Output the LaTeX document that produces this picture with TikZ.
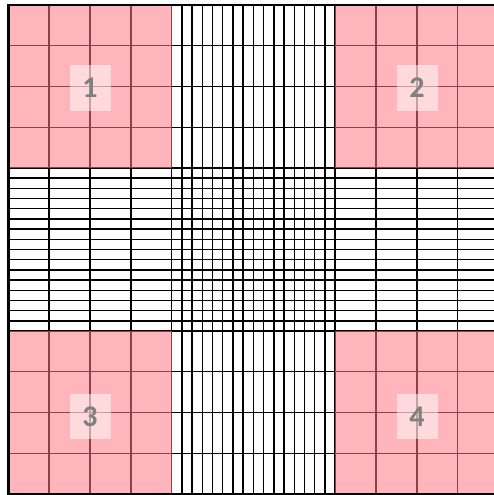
\documentclass[tikz,border=0pt]{standalone}
\usepackage{fontspec}
\setmainfont{Carlito}
\definecolor{pinkfill}{RGB}{255,120,132}
\definecolor{lblgray}{RGB}{128,128,128}
\begin{document}
\begin{tikzpicture}[x=1pt,y=-1pt,
  gridline/.style={draw=black,line width=1.4pt},
  redzone/.style={fill=pinkfill,fill opacity=0.55,draw=none},
  frameline/.style={draw=black,line width=2.4pt},
  lbl/.style={fill=white,fill opacity=0.5,text opacity=1,text=lblgray,
    minimum width=41pt,minimum height=45pt,inner sep=0pt,
    font=\bfseries\fontsize{30}{30}\selectfont}]
\useasboundingbox (0,0) rectangle (493,495);
\def\xo{8.3}\def\yo{5}\def\cx{40.85}\def\cy{40.75}
% coarse vertical lines
\foreach \i in {0,...,12} \draw[gridline] ({\xo+\i*\cx},\yo) -- ({\xo+\i*\cx},{\yo+12*\cy});
% coarse horizontal lines
\foreach \i in {0,...,12} \draw[gridline] (\xo,{\yo+\i*\cy}) -- ({\xo+12*\cx},{\yo+\i*\cy});
% fine vertical lines
\foreach \j in {1,...,15} \draw[gridline] ({\xo+4*\cx+\j*\cx/4},\yo) -- ({\xo+4*\cx+\j*\cx/4},{\yo+12*\cy});
% fine horizontal lines
\foreach \j in {1,...,15} \draw[gridline] (\xo,{\yo+4*\cy+\j*\cy/4}) -- ({\xo+12*\cx},{\yo+4*\cy+\j*\cy/4});
% red corner zones
\fill[redzone] (\xo,\yo) rectangle ({\xo+4*\cx},{\yo+4*\cy});
\fill[redzone] ({\xo+8*\cx},\yo) rectangle ({\xo+12*\cx},{\yo+4*\cy});
\fill[redzone] (\xo,{\yo+8*\cy}) rectangle ({\xo+4*\cx},{\yo+12*\cy});
\fill[redzone] ({\xo+8*\cx},{\yo+8*\cy}) rectangle ({\xo+12*\cx},{\yo+12*\cy});
% frame
\draw[frameline] (\xo,\yo) rectangle ({\xo+12*\cx},{\yo+12*\cy});
% labels
\node[lbl] (n1) at (90,88) {1};
\node[lbl] (n2) at (417,88) {2};
\node[lbl] (n3) at (90,416.5) {3};
\node[lbl] (n4) at (417,416.5) {4};
\end{tikzpicture}
\end{document}
